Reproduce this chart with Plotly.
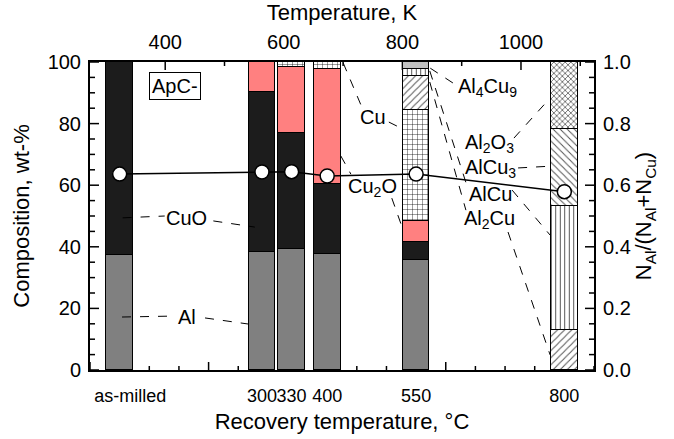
import plotly.graph_objects as go

# Recovery temperatures (°C) where each sample bar sits, and their axis labels
bar_pos = [50, 290, 340, 400, 550, 800]
bar_labels = ["as-milled", "300", "330", "400", "550", "800"]
label_pos = [68, 290, 340, 400, 550, 800]

# Phase composition, wt-% (stacked from the bottom)
al = [37.3, 38.4, 39.3, 37.6, 35.7, 0]
cuo = [62.7, 52.0, 37.7, 22.8, 5.8, 0]
cu2o = [0, 9.6, 21.5, 37.2, 7.0, 0]
cu = [0, 0, 1.5, 2.4, 35.9, 0]
al2cu = [0, 0, 0, 0, 11.1, 13.0]
alcu = [0, 0, 0, 0, 2.2, 40.2]
alcu3 = [0, 0, 0, 0, 0, 24.9]
al4cu9 = [0, 0, 0, 0, 2.3, 0]
al2o3 = [0, 0, 0, 0, 0, 21.9]

# Atomic ratio N_Al/(N_Al+N_Cu) for each sample
ratio = [0.636, 0.643, 0.644, 0.630, 0.636, 0.579]

FONT = "Liberation Sans, Arial, sans-serif"
X_RANGE = [0, 850]
K_RANGE = [X_RANGE[0] + 273.15, X_RANGE[1] + 273.15]
PLOT_W, PLOT_H = 504, 308  # plot area size in px (674-90-80, 439-62-69)

fig = go.Figure()


def add_phase(name, vals, color="white", pattern=None):
    ys = [v if v > 0 else None for v in vals]
    marker = dict(color=color, line=dict(color="black", width=1))
    if pattern:
        marker["pattern"] = pattern
    fig.add_trace(go.Bar(x=bar_pos, y=ys, width=45, name=name, marker=marker,
                         showlegend=False, hoverinfo="skip"))


add_phase("Al", al, "#808080")
add_phase("CuO", cuo, "#1c1c1c")
add_phase("Cu2O", cu2o, "#ff8080")
add_phase("Cu", cu, "white", dict(shape="+", fgcolor="black", bgcolor="white",
                                  size=5, solidity=0.15, fillmode="replace"))
add_phase("Al2Cu", al2cu, "white", dict(shape="/", fgcolor="#555", bgcolor="white",
                                        size=5, solidity=0.2, fillmode="replace"))
add_phase("AlCu", alcu, "white", dict(shape="|", fgcolor="#444", bgcolor="white",
                                      size=4.5, solidity=0.2, fillmode="replace"))
add_phase("AlCu3", alcu3, "white", dict(shape="\\", fgcolor="#555", bgcolor="white",
                                        size=5, solidity=0.2, fillmode="replace"))
add_phase("Al4Cu9", al4cu9, "#c0c0c0")
add_phase("Al2O3", al2o3, "white", dict(shape="x", fgcolor="#333", bgcolor="white",
                                        size=4, solidity=0.3, fillmode="replace"))

# invisible carriers so the Kelvin axis (top) and the label axis (bottom) render
fig.add_trace(go.Scatter(x=K_RANGE, y=[0, 0], xaxis="x2", mode="lines",
                         line=dict(width=0), opacity=0, showlegend=False,
                         hoverinfo="skip"))
fig.add_trace(go.Scatter(x=X_RANGE, y=[0, 0], xaxis="x3", mode="lines",
                         line=dict(width=0), opacity=0, showlegend=False,
                         hoverinfo="skip"))

fig.add_trace(go.Scatter(
    x=bar_pos, y=ratio, yaxis="y2", mode="lines+markers",
    line=dict(color="black", width=1.5),
    marker=dict(symbol="circle", size=14, color="white",
                line=dict(color="black", width=1.5)),
    showlegend=False, hoverinfo="skip"))

# Phase labels with dashed leader lines (data coordinates: °C, wt-%)
labels = [
    ("CuO", 163, 49.4, [(55, 49.4, 126, 50.0), (208, 48.4, 278, 46.4)]),
    ("Al", 163, 17.2, [(54, 17.2, 138, 17.5), (194, 16.9, 268, 14.9)]),
    ("Cu", 477, 82.1, [(427, 99.7, 459, 85.1), (504, 80.5, 528, 78.2)]),
    ("Cu<sub>2</sub>O", 477, 59.1, [(423, 69.5, 440, 63.6), (509, 55.8, 528, 45.5)]),
    ("Al<sub>4</sub>Cu<sub>9</sub>", 670, 91.6, [(612, 93.2, 573, 98.1)]),
    ("Al<sub>2</sub>O<sub>3</sub>", 674, 73.4, [(715, 75.3, 776, 88.3)]),
    ("AlCu<sub>3</sub>", 675, 65.3, [(722, 65.6, 779, 66.2)]),
    ("AlCu", 675, 57.1, [(573, 97.1, 637, 59.1), (712, 58.4, 776, 43.8)]),
    ("Al<sub>2</sub>Cu", 673, 49.0, [(573, 93.5, 634, 51.9), (705, 44.8, 776, 4.9)]),
]
for text, lx, ly, leaders in labels:
    fig.add_annotation(x=lx, y=ly, xref="x", yref="y", text=text, showarrow=False,
                       font=dict(family=FONT, size=20, color="black"))
    for x0, y0, x1, y1 in leaders:
        fig.add_shape(type="line", xref="x", yref="y", x0=x0, y0=y0, x1=x1, y1=y1,
                      line=dict(color="black", width=1, dash="dash"))

fig.add_annotation(x=143, y=92.2, xref="x", yref="y", text="ApC-", showarrow=False,
                   font=dict(family=FONT, size=20, color="black"),
                   bordercolor="black", borderwidth=1, borderpad=2, bgcolor="white")

# Inward tick marks on all four sides, drawn above the plot background
# but underneath the bars
TICK = dict(color="black", width=1.5)


def tick(**kw):
    fig.add_shape(type="line", layer="between", line=TICK, **kw)


for v in range(0, 101, 5):                      # left, wt-%
    ln = 9 if v % 20 == 0 else 5
    tick(xref="paper", yref="y", x0=0, x1=ln / PLOT_W, y0=v, y1=v)
for i in range(0, 21):                          # right, atomic ratio
    v = i * 0.05
    ln = 9 if i % 4 == 0 else 5
    tick(xref="paper", yref="y2", x0=1, x1=1 - ln / PLOT_W, y0=v, y1=v)
for v in range(0, 851, 50):                     # bottom, °C
    ln = 8 if v % 200 == 0 else 4
    tick(xref="x", yref="paper", x0=v, x1=v, y0=0, y1=ln / PLOT_H)
for v in range(300, 1101, 100):                 # top, K
    ln = 8 if v % 200 == 0 else 4
    tick(xref="x2", yref="paper", x0=v, x1=v, y0=1, y1=1 - ln / PLOT_H)

TICKFONT = dict(family=FONT, size=20, color="black")


def axis_style(**kw):
    base = dict(showgrid=False, zeroline=False, linecolor="black", linewidth=2,
                automargin=False, tickfont=TICKFONT)
    base.update(kw)
    return base


fig.update_layout(
    width=674, height=439,
    margin=dict(l=90, r=80, t=62, b=69),
    paper_bgcolor="white", plot_bgcolor="white",
    barmode="stack", bargap=0,
    font=dict(family=FONT, size=20, color="black"),
    # bottom °C axis: line only (tick marks are drawn as shapes)
    xaxis=axis_style(range=X_RANGE, showticklabels=False, showline=True, ticks=""),
    # bottom labels placed under the sample bars
    xaxis3=axis_style(range=X_RANGE, overlaying="x", side="bottom", anchor="y",
                      tickmode="array", tickvals=label_pos, ticktext=bar_labels,
                      ticks="outside", ticklen=9, tickcolor="rgba(0,0,0,0)",
                      tickangle=0, showline=False,
                      tickfont=dict(family=FONT, size=18, color="black"),
                      title=dict(text="Recovery temperature, °C", font=dict(size=22),
                                 standoff=9)),
    xaxis2=axis_style(range=K_RANGE, overlaying="x", side="top", anchor="y",
                      tickmode="linear", tick0=0, dtick=200, tickangle=0,
                      ticks="outside", ticklen=3, tickcolor="rgba(0,0,0,0)",
                      showline=True,
                      title=dict(text="Temperature, K", font=dict(size=22), standoff=6)),
    yaxis=axis_style(range=[0, 100], tickmode="linear", tick0=0, dtick=20,
                     ticks="outside", ticklen=3, tickcolor="rgba(0,0,0,0)",
                     showline=True,
                     title=dict(text="Composition, wt-%", font=dict(size=22),
                                standoff=12)),
    yaxis2=axis_style(range=[0, 1], tickmode="linear", tick0=0, dtick=0.2,
                      tickformat=".1f", overlaying="y", side="right", anchor="x",
                      ticks="outside", ticklen=3, tickcolor="rgba(0,0,0,0)",
                      showline=True,
                      title=dict(text="N<sub>Al</sub>/(N<sub>Al</sub>+N<sub>Cu</sub>)",
                                 font=dict(size=22), standoff=6)),
)

fig.write_html("out.html")
